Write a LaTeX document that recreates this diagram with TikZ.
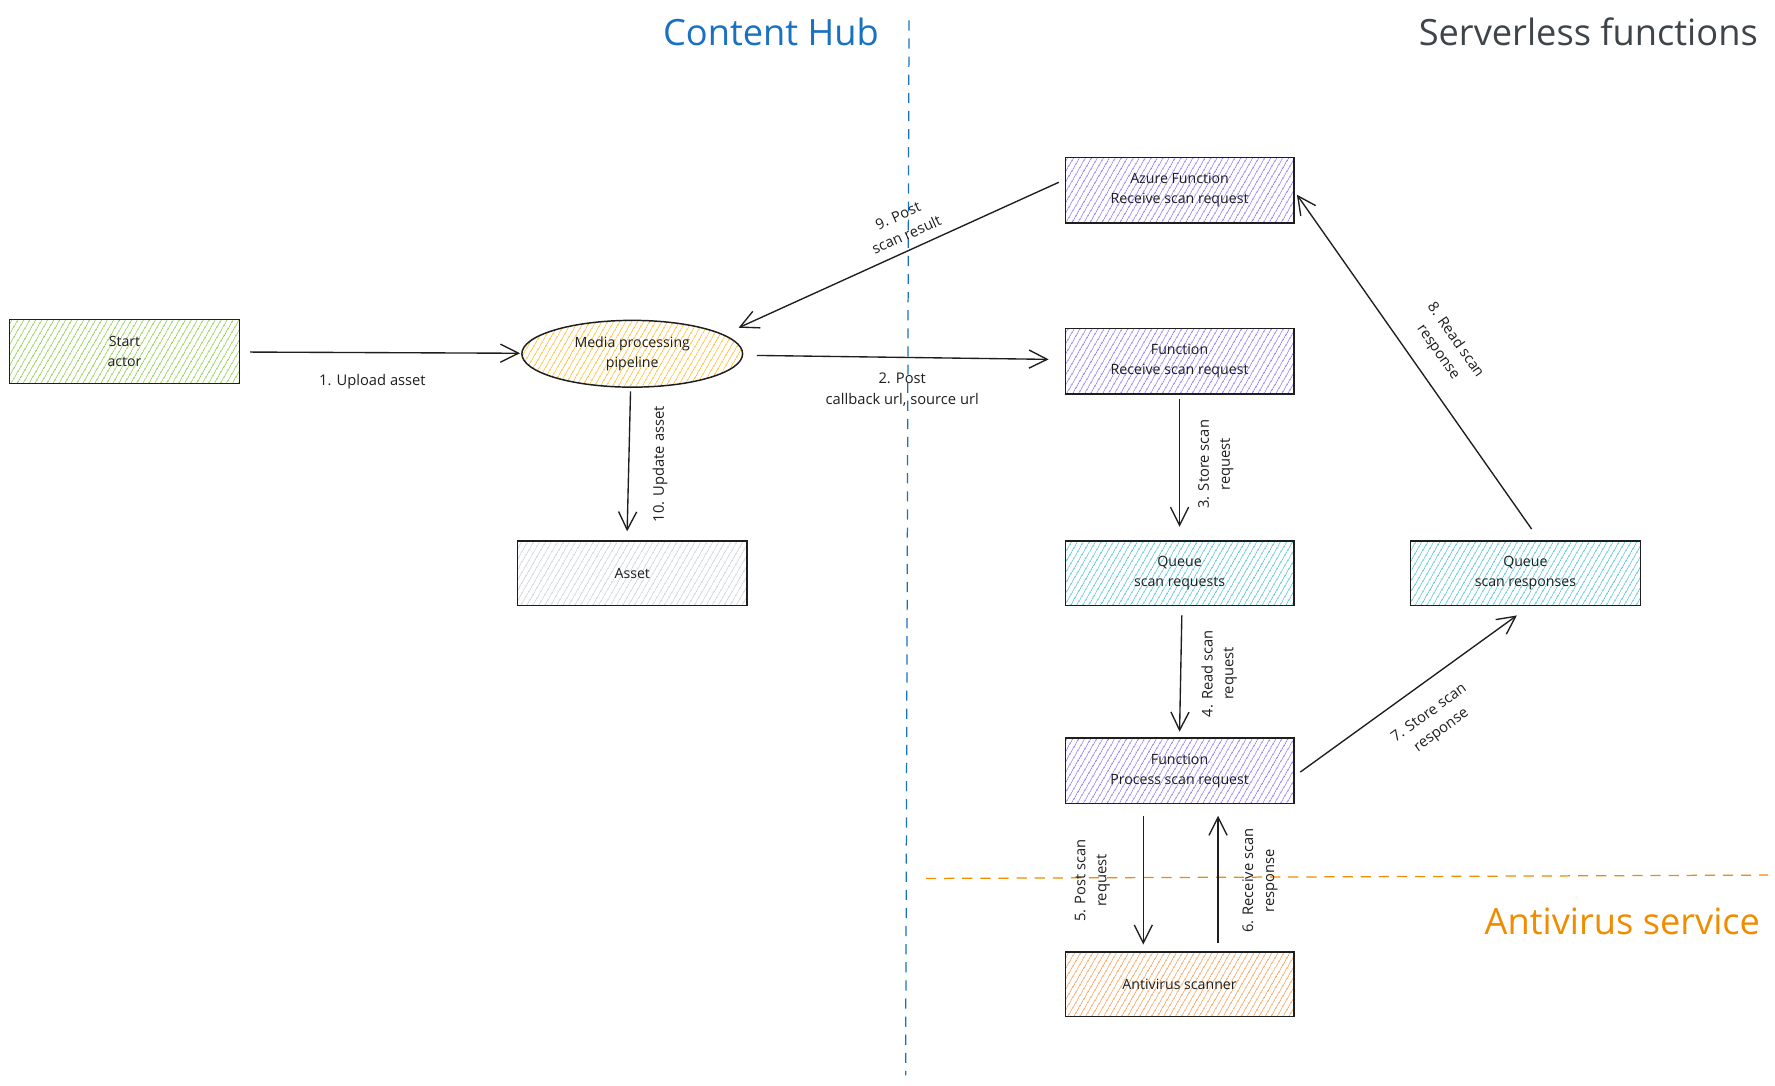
\documentclass[tikz,border=0pt]{standalone}
\usepackage{fontspec}
\setmainfont{Open Sans}
\usetikzlibrary{arrows.meta,shapes.geometric,patterns.meta,calc}

\definecolor{ink}{HTML}{1E1E1E}
\definecolor{hubblue}{HTML}{1971C2}
\definecolor{srvgray}{HTML}{3F444A}
\definecolor{avorange}{HTML}{F08C00}
\definecolor{hgreen}{HTML}{8FD14F}
\definecolor{hyellow}{HTML}{FFC034}
\definecolor{hgray}{HTML}{CED4DA}
\definecolor{hpurple}{HTML}{9480F5}
\definecolor{hcyan}{HTML}{5CC6D6}
\definecolor{horange}{HTML}{F9A35A}

\newcommand{\diagboxfont}{\fontsize{12.5}{18}\selectfont}
\newcommand{\diaglblfont}{\fontsize{13}{18.5}\selectfont}
\newcommand{\diagtitlefont}{\fontsize{32}{36}\selectfont}

\begin{document}
\begin{tikzpicture}[x=1pt,y=-1pt,
  box/.style={draw=ink, line width=1.3pt, minimum width=202pt, minimum height=57pt,
    align=center, font=\diagboxfont, text=ink, inner sep=0pt},
  hatch/.style={pattern={Lines[angle=60,distance=4pt,line width=0.8pt]}, pattern color=#1},
  arr/.style={draw=ink, line width=1.2pt,
    -{Straight Barb[length=16pt,width=16pt,line width=1.2pt]}},
  lbl/.style={align=center, font=\diaglblfont, text=ink, inner sep=0pt},
  title/.style={font=\diagtitlefont, inner sep=0pt},
  sep/.style={line width=1.1pt, dash pattern=on 9pt off 7pt},
]
% canvas
\fill[white] (0,0) rectangle (1568,959);
\useasboundingbox (0,0) rectangle (1568,959);

% zone separators and headings
\draw[sep, hubblue] (803,18) -- (800,950);
\draw[sep, avorange] (818,776) -- (1562,773);
\node[title, text=hubblue] (tHub) at (681,28) {Content Hub};
\node[title, text=srvgray, anchor=east] (tSrv) at (1553,28) {Serverless functions};
\node[title, text=avorange, anchor=east] (tAv) at (1555,814) {Antivirus service};

% Content Hub side
\node[box, hatch=hgreen, minimum width=203pt] (start) at (110,310.5) {Start\\actor};
\node[box, ellipse, hatch=hyellow, minimum width=195pt, minimum height=59pt] (media) at (558.5,312.5) {Media processing\\pipeline};
\node[box, hatch=hgray, minimum width=203pt] (asset) at (558.5,506.5) {Asset};

% serverless side
\node[box, hatch=hpurple, minimum height=58pt] (az) at (1042,168) {Azure Function\\Receive scan request};
\node[box, hatch=hpurple, minimum height=58pt] (frecv) at (1042,319) {Function\\Receive scan request};
\node[box, hatch=hcyan] (qreq) at (1042,506.5) {Queue\\scan requests};
\node[box, hatch=hcyan, minimum width=203pt] (qresp) at (1347.5,506.5) {Queue\\scan responses};
\node[box, hatch=hpurple, minimum height=58pt] (proc) at (1042,681) {Function\\Process scan request};

% antivirus side
\node[box, hatch=horange] (av) at (1042,869.5) {Antivirus scanner};

% flow
\draw[arr, shorten <=9pt, shorten >=1pt] (start) -- (media);
\node[lbl] (l1) at (329,337) {1. Upload asset};

\draw[arr, shorten <=12pt, shorten >=14pt] (media) -- (frecv);
\node[lbl] (l2) at (797,344) {2. Post\\callback url, source url};

\draw[arr, shorten <=4pt, shorten >=12pt] (frecv) -- (qreq);
\node[lbl, rotate=90] (l3) at (1074,410) {3. Store scan\\request};

\draw[arr] ($(qreq.south)+(2,8)$) -- ($(proc.north)+(0,-5)$);
\node[lbl, rotate=90] (l4) at (1077,595) {4. Read scan\\request};

\draw[arr] ($(proc.south)+(-32,10)$) -- ($(av.north)+(-32,-6)$);
\node[lbl, rotate=90] (l5) at (965,778) {5. Post scan\\request};

\draw[arr] ($(av.north)+(34,-7)$) -- ($(proc.south)+(34,10)$);
\node[lbl, rotate=90] (l6) at (1113,778) {6. Receive scan\\response};

\draw[arr] ($(proc.east)+(5,1)$) -- ($(qresp.south)+(-7.5,8)$);
\node[lbl, rotate=36] (l7) at (1268,638) {7. Store scan\\response};

\draw[arr] ($(qresp.north)+(5.5,-10)$) -- ($(az.east)+(2,4)$);
\node[lbl, rotate=-55] (l8) at (1278,306) {8. Read scan\\response};

\draw[arr] ($(az.west)+(-5,-7)$) -- ($(media.center)+(94,-23)$);
\node[lbl, rotate=24] (l9) at (797,199) {9. Post\\scan result};

\draw[arr] ($(media.south)+(-1.5,3)$) -- ($(asset.north)+(-4.5,-8)$);
\node[lbl, rotate=90] (l10) at (583,410) {10. Update asset};
\end{tikzpicture}
\end{document}
